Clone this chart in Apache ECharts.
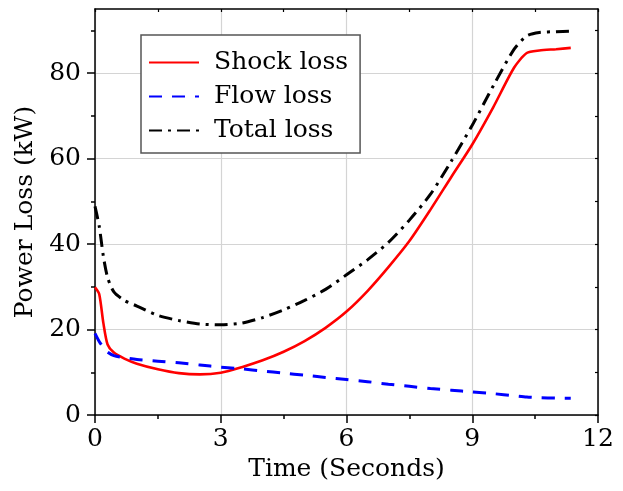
<!DOCTYPE html>
<html>
<head>
<meta charset="utf-8">
<script src="https://cdn.jsdelivr.net/npm/echarts@6/dist/echarts.min.js"></script>
<style>html,body{margin:0;padding:0;background:#fff}#c{width:623px;height:491px}</style>
</head>
<body>
<div id="c"></div>
<script>
const timeS = [0, 0.1, 0.2, 0.3, 0.45, 0.7, 1.0, 1.5, 2.0, 2.5, 3.0, 3.5, 4.0, 4.5, 5.0, 5.5, 6.0, 6.5, 7.0, 7.5, 8.0, 8.5, 9.0, 9.5, 10.0, 10.3, 10.6, 11.0, 11.35];
const shockLoss = [29.9, 28.3, 21.5, 16.5, 14.6, 13.2, 12.0, 10.7, 9.8, 9.5, 9.9, 11.2, 12.8, 14.8, 17.3, 20.4, 24.2, 29.0, 34.6, 40.7, 48.0, 55.7, 63.3, 72.0, 81.3, 84.7, 85.3, 85.6, 85.9];
const flowLoss = [19.1, 17.2, 15.8, 14.7, 13.9, 13.4, 13.0, 12.6, 12.2, 11.7, 11.2, 10.8, 10.3, 9.8, 9.3, 8.8, 8.3, 7.8, 7.2, 6.7, 6.2, 5.8, 5.4, 5.0, 4.5, 4.2, 4.05, 3.95, 3.9];
const totalLoss = [48.8, 44.2, 37.1, 32.2, 28.8, 26.8, 25.5, 23.3, 22.1, 21.3, 21.1, 21.5, 22.8, 24.6, 26.8, 29.4, 32.8, 36.3, 40.4, 45.6, 51.6, 59.4, 67.8, 77.0, 85.6, 88.7, 89.5, 89.7, 89.8];
const yMajor = [0, 20, 40, 60, 80];
const yMinor = [10, 30, 50, 70, 90];
const seriesNames = ['Shock loss', 'Flow loss', 'Total loss'];

const FONT = 'DejaVu Serif';
const pair = (ys) => timeS.map((t, i) => [t, ys[i]]);

const chart = echarts.init(document.getElementById('c'), null, {renderer: 'canvas'});
chart.setOption({
  animation: false,
  backgroundColor: '#fff',
  grid: {left: 95, top: 9, width: 503, height: 406, containLabel: false},
  legend: {
    orient: 'vertical', left: 141, top: 35,
    padding: [15, 12, 10, 7],
    borderColor: '#555', borderWidth: 1.5,
    backgroundColor: '#fff',
    itemWidth: 50, itemHeight: 14, itemGap: 9,
    data: seriesNames,
    itemStyle: {color: 'rgba(0,0,0,0)', borderWidth: 0, opacity: 0},
    textStyle: {fontFamily: FONT, fontSize: 25, color: '#000', lineHeight: 25, padding: [0, 0, 0, 10]}
  },
  xAxis: [{
    type: 'value', min: 0, max: 12, interval: 3, position: 'bottom',
    name: 'Time (Seconds)', nameLocation: 'middle', nameGap: 40,
    nameTextStyle: {fontFamily: FONT, fontSize: 25, color: '#000'},
    axisLine: {show: true, onZero: false, lineStyle: {color: '#000', width: 1.5}},
    axisTick: {show: true, inside: false, length: 8, lineStyle: {color: '#000', width: 1.5}},
    minorTick: {show: true, splitNumber: 2, length: 4, lineStyle: {color: '#000', width: 1.5}},
    axisLabel: {fontFamily: FONT, fontSize: 25, color: '#000', margin: 12},
    splitLine: {show: true, lineStyle: {color: '#d4d4d4', width: 1.2}}
  }, {
    type: 'value', min: 0, max: 12, interval: 3, position: 'top',
    axisLine: {show: true, onZero: false, lineStyle: {color: '#000', width: 1.5}},
    axisTick: {show: true, inside: true, length: 3, lineStyle: {color: '#000', width: 1.2}},
    minorTick: {show: true, splitNumber: 2, length: 3, lineStyle: {color: '#000', width: 1.2}},
    axisLabel: {show: false}, splitLine: {show: false}
  }],
  yAxis: [{
    type: 'value', min: 0, max: 95, position: 'left',
    name: 'Power Loss (kW)', nameLocation: 'middle', nameGap: 47,
    nameTextStyle: {fontFamily: FONT, fontSize: 25, color: '#000'},
    axisLine: {show: true, onZero: false, lineStyle: {color: '#000', width: 1.5}},
    axisTick: {show: true, inside: false, length: 8, customValues: yMajor, lineStyle: {color: '#000', width: 1.5}},
    axisLabel: {fontFamily: FONT, fontSize: 25, color: '#000', margin: 14, customValues: yMajor},
    splitLine: {show: true, lineStyle: {color: '#d4d4d4', width: 1.2}}
  }, {
    type: 'value', min: 0, max: 95, position: 'left',
    axisLine: {show: false},
    axisTick: {show: true, inside: false, length: 4, customValues: yMinor, lineStyle: {color: '#000', width: 1.5}},
    axisLabel: {show: false, customValues: yMinor}, splitLine: {show: false}
  }, {
    type: 'value', min: 0, max: 95, position: 'right',
    axisLine: {show: true, onZero: false, lineStyle: {color: '#000', width: 1.5}},
    axisTick: {show: true, inside: true, length: 3, customValues: yMajor.concat(yMinor), lineStyle: {color: '#000', width: 1.2}},
    axisLabel: {show: false, customValues: yMajor.concat(yMinor)}, splitLine: {show: false}
  }],
  series: [{
    name: seriesNames[0], type: 'line', data: pair(shockLoss), smooth: 0.25,
    symbol: 'none', showSymbol: false, z: 3,
    lineStyle: {color: '#ff0000', width: 2.6, type: 'solid'},
    itemStyle: {color: '#ff0000'}
  }, {
    name: seriesNames[1], type: 'line', data: pair(flowLoss), smooth: 0.25,
    symbol: 'none', showSymbol: false, z: 3,
    lineStyle: {color: '#0000ff', width: 3, type: [13, 10]},
    itemStyle: {color: '#0000ff'}
  }, {
    name: seriesNames[2], type: 'line', data: pair(totalLoss), smooth: 0.25,
    symbol: 'none', showSymbol: false, z: 3,
    lineStyle: {color: '#000', width: 3, type: [13, 6, 3, 6]},
    itemStyle: {color: '#000'}
  }]
});
</script>
</body>
</html>
